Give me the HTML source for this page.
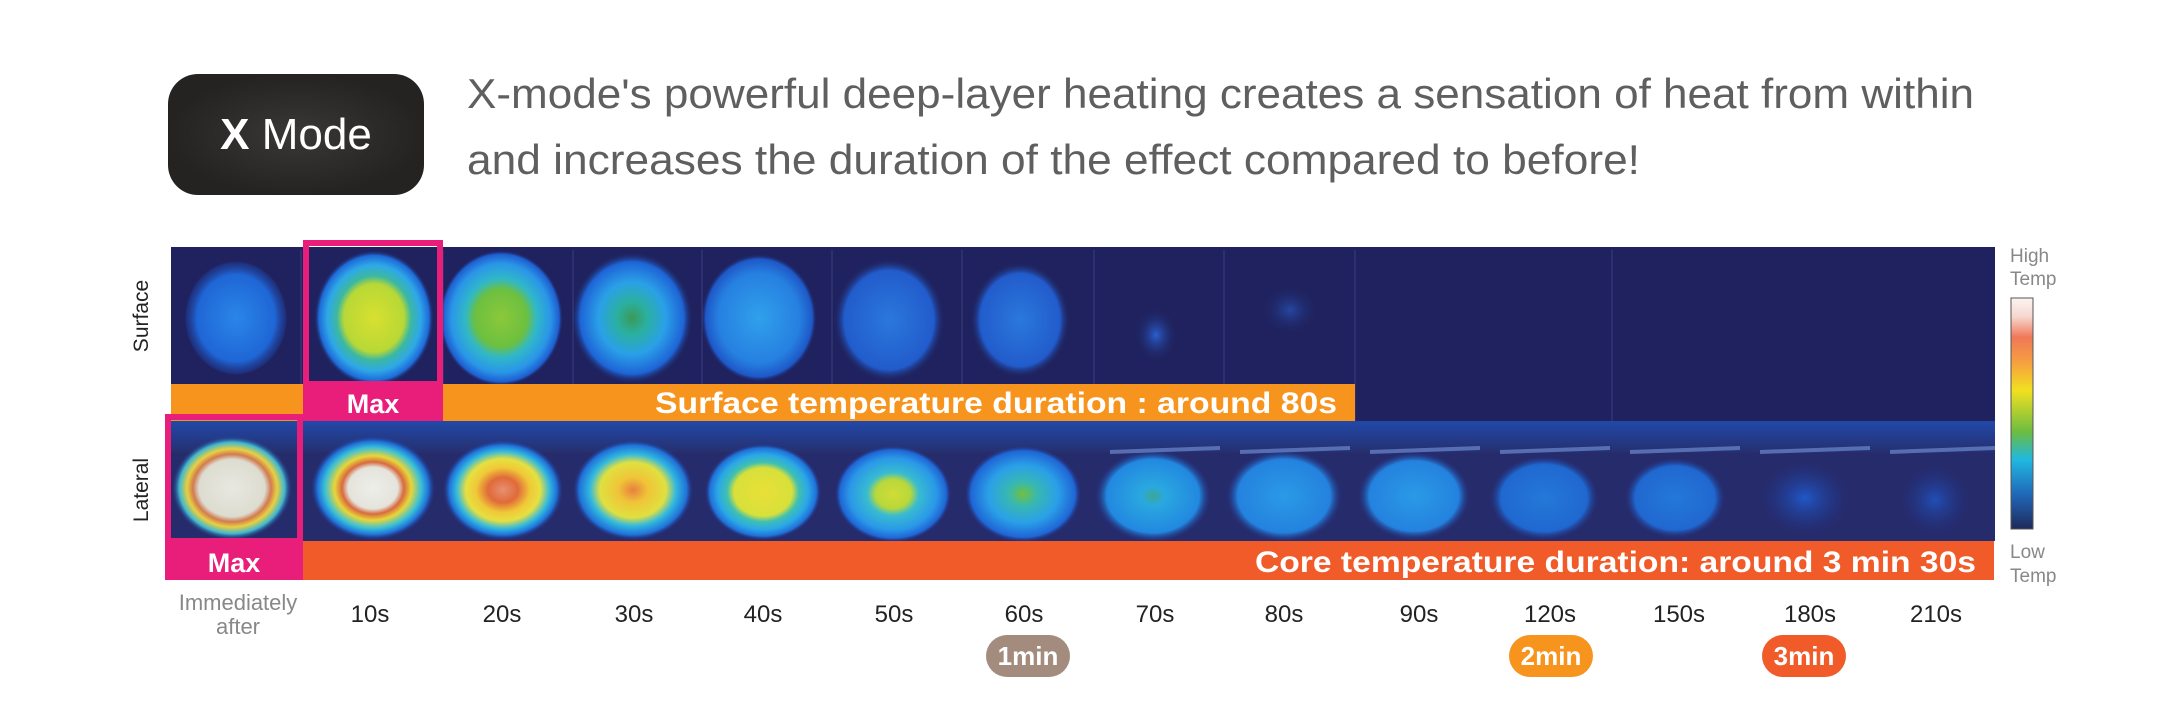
<!DOCTYPE html>
<html><head><meta charset="utf-8"><style>
html,body{margin:0;padding:0;background:#fff;}
svg{display:block;}
text{font-family:"Liberation Sans",sans-serif;}
</style></head><body>
<svg width="2179" height="727" viewBox="0 0 2179 727" xmlns="http://www.w3.org/2000/svg">
<defs>
<clipPath id="cs"><rect x="171" y="247" width="1824" height="137"/></clipPath>
<clipPath id="cl"><rect x="171" y="421" width="1824" height="120"/></clipPath>
<radialGradient id="mb" cx="50%" cy="50%" r="50%"><stop offset="0" stop-color="#3a3836"/><stop offset="1" stop-color="#252321"/></radialGradient>
<radialGradient id="s0"><stop offset="0" stop-color="#2a86e8"/><stop offset="0.75" stop-color="#1f66d6"/><stop offset="0.95" stop-color="#1f3c95" stop-opacity="0.6"/><stop offset="1" stop-color="#1f225e" stop-opacity="0"/></radialGradient>
<radialGradient id="s1"><stop offset="0" stop-color="#d8e030"/><stop offset="0.5" stop-color="#b8d836"/><stop offset="0.62" stop-color="#3cb8a0"/><stop offset="0.78" stop-color="#2ea8e8"/><stop offset="0.92" stop-color="#1e6ad8"/><stop offset="1" stop-color="#1f225e" stop-opacity="0"/></radialGradient>
<radialGradient id="s2"><stop offset="0" stop-color="#8cc83a"/><stop offset="0.42" stop-color="#6cc040"/><stop offset="0.58" stop-color="#30b8c8"/><stop offset="0.8" stop-color="#2a96e8"/><stop offset="0.94" stop-color="#1e5ed0"/><stop offset="1" stop-color="#1f225e" stop-opacity="0"/></radialGradient>
<radialGradient id="s3"><stop offset="0" stop-color="#3a9a5a"/><stop offset="0.25" stop-color="#2ab0a0"/><stop offset="0.55" stop-color="#2aa0e8"/><stop offset="0.85" stop-color="#1e64d6"/><stop offset="1" stop-color="#1f225e" stop-opacity="0"/></radialGradient>
<radialGradient id="s4"><stop offset="0" stop-color="#30a0ec"/><stop offset="0.7" stop-color="#2680e0"/><stop offset="0.92" stop-color="#1e58c8"/><stop offset="1" stop-color="#1f225e" stop-opacity="0"/></radialGradient>
<radialGradient id="s5"><stop offset="0" stop-color="#2a78dc"/><stop offset="0.8" stop-color="#225ccc"/><stop offset="1" stop-color="#1f225e" stop-opacity="0"/></radialGradient>
<radialGradient id="s7"><stop offset="0" stop-color="#2a60d0"/><stop offset="1" stop-color="#1f225e" stop-opacity="0"/></radialGradient>
<radialGradient id="l0"><stop offset="0" stop-color="#e8e8e0"/><stop offset="0.55" stop-color="#dcdcd0"/><stop offset="0.65" stop-color="#d27a50"/><stop offset="0.75" stop-color="#e8d040"/><stop offset="0.88" stop-color="#40b8d0"/><stop offset="1" stop-color="#1f3a90" stop-opacity="0"/></radialGradient>
<radialGradient id="l1"><stop offset="0" stop-color="#eeeeea"/><stop offset="0.4" stop-color="#e4e4dc"/><stop offset="0.5" stop-color="#d86a40"/><stop offset="0.62" stop-color="#e8d638"/><stop offset="0.78" stop-color="#38c0d8"/><stop offset="0.9" stop-color="#2070d8"/><stop offset="1" stop-color="#1f3a90" stop-opacity="0"/></radialGradient>
<radialGradient id="l2"><stop offset="0" stop-color="#e89070"/><stop offset="0.25" stop-color="#e06a3a"/><stop offset="0.45" stop-color="#f0c838"/><stop offset="0.62" stop-color="#e6e040"/><stop offset="0.78" stop-color="#30b8e0"/><stop offset="0.9" stop-color="#2070d8"/><stop offset="1" stop-color="#1f3a90" stop-opacity="0"/></radialGradient>
<radialGradient id="l3"><stop offset="0" stop-color="#e88040"/><stop offset="0.25" stop-color="#f0c438"/><stop offset="0.55" stop-color="#e0e040"/><stop offset="0.72" stop-color="#30b8e0"/><stop offset="0.9" stop-color="#2070d8"/><stop offset="1" stop-color="#1f3a90" stop-opacity="0"/></radialGradient>
<radialGradient id="l4"><stop offset="0" stop-color="#e8e038"/><stop offset="0.5" stop-color="#d8e03a"/><stop offset="0.62" stop-color="#40c0b0"/><stop offset="0.78" stop-color="#2aa8e8"/><stop offset="0.92" stop-color="#2070d8"/><stop offset="1" stop-color="#1f3a90" stop-opacity="0"/></radialGradient>
<radialGradient id="l5"><stop offset="0" stop-color="#d0dc38"/><stop offset="0.3" stop-color="#b8d83a"/><stop offset="0.45" stop-color="#38bcd0"/><stop offset="0.75" stop-color="#2a98e8"/><stop offset="0.92" stop-color="#1f66d6"/><stop offset="1" stop-color="#1f3a90" stop-opacity="0"/></radialGradient>
<radialGradient id="l6"><stop offset="0" stop-color="#70c040"/><stop offset="0.25" stop-color="#38b8b0"/><stop offset="0.6" stop-color="#2aa0e8"/><stop offset="0.9" stop-color="#1f66d6"/><stop offset="1" stop-color="#1f3a90" stop-opacity="0"/></radialGradient>
<radialGradient id="l7"><stop offset="0" stop-color="#3aa890"/><stop offset="0.2" stop-color="#2aa8e0"/><stop offset="0.8" stop-color="#2288e0"/><stop offset="1" stop-color="#1f3a90" stop-opacity="0"/></radialGradient>
<radialGradient id="l8"><stop offset="0" stop-color="#2a9ae6"/><stop offset="0.8" stop-color="#2482de"/><stop offset="1" stop-color="#1f3a90" stop-opacity="0"/></radialGradient>
<radialGradient id="l10"><stop offset="0" stop-color="#2478d8"/><stop offset="0.8" stop-color="#2068d0"/><stop offset="1" stop-color="#1f3a90" stop-opacity="0"/></radialGradient>
<radialGradient id="l12"><stop offset="0" stop-color="#2058c8"/><stop offset="1" stop-color="#1f3a90" stop-opacity="0"/></radialGradient>
<linearGradient id="ltop" x1="0" y1="0" x2="0" y2="1"><stop offset="0" stop-color="#2050b8"/><stop offset="1" stop-color="#26306e"/></linearGradient>
<linearGradient id="cb" x1="0" y1="0" x2="0" y2="1">
<stop offset="0" stop-color="#fbf4f2"/><stop offset="0.08" stop-color="#f6d8d0"/><stop offset="0.17" stop-color="#f07858"/><stop offset="0.28" stop-color="#f6a040"/><stop offset="0.4" stop-color="#f2e020"/><stop offset="0.58" stop-color="#6cbc40"/><stop offset="0.7" stop-color="#20b8e0"/><stop offset="0.85" stop-color="#2068b8"/><stop offset="1" stop-color="#1e2a5a"/></linearGradient>
</defs>

<rect x="168" y="74" width="256" height="121" rx="30" fill="url(#mb)"/>
<text x="296" y="149" font-size="44" fill="#fff" text-anchor="middle"><tspan font-weight="bold">X</tspan> Mode</text>

<text x="467" y="108" font-size="42" fill="#5f5f5f" textLength="1507" lengthAdjust="spacingAndGlyphs">X-mode's powerful deep-layer heating creates a sensation of heat from within</text>
<text x="467" y="174" font-size="42" fill="#5f5f5f" textLength="1173" lengthAdjust="spacingAndGlyphs">and increases the duration of the effect compared to before!</text>

<rect x="171" y="247" width="1824" height="176" fill="#1f225e"/>
<g clip-path="url(#cs)">
<ellipse cx="236" cy="318" rx="52" ry="58" fill="url(#s0)"/>
<ellipse cx="374" cy="318" rx="60" ry="68" fill="url(#s1)"/>
<ellipse cx="501" cy="318" rx="62" ry="68" fill="url(#s2)"/>
<ellipse cx="632" cy="318" rx="61" ry="66" fill="url(#s3)"/>
<ellipse cx="759" cy="318" rx="58" ry="64" fill="url(#s4)"/>
<ellipse cx="889" cy="320" rx="56" ry="62" fill="url(#s5)"/>
<ellipse cx="1020" cy="320" rx="50" ry="58" fill="url(#s5)"/>
<ellipse cx="1156" cy="335" rx="22" ry="28" fill="url(#s7)"/>
<ellipse cx="1290" cy="310" rx="30" ry="26" fill="url(#s7)" opacity="0.6"/>
</g>
<g stroke="#3a3f80" stroke-width="1">
<line x1="301" y1="250" x2="301" y2="384"/><line x1="443" y1="250" x2="443" y2="384"/><line x1="573" y1="250" x2="573" y2="384"/><line x1="702" y1="250" x2="702" y2="384"/><line x1="832" y1="250" x2="832" y2="384"/><line x1="962" y1="250" x2="962" y2="384"/><line x1="1094" y1="250" x2="1094" y2="384"/><line x1="1224" y1="250" x2="1224" y2="384"/><line x1="1355" y1="250" x2="1355" y2="421"/><line x1="1612" y1="250" x2="1612" y2="421"/>
</g>
<rect x="171" y="384" width="1184" height="37" fill="#f7941d"/>
<text x="655" y="413" font-size="30" font-weight="bold" fill="#fff" textLength="682" lengthAdjust="spacingAndGlyphs">Surface temperature duration : around 80s</text>

<rect x="171" y="421" width="1824" height="120" fill="#262b6c"/>
<rect x="171" y="421" width="1824" height="32" fill="url(#ltop)" opacity="0.8"/>
<g clip-path="url(#cl)">
<ellipse cx="232" cy="488" rx="60" ry="52" fill="url(#l0)"/>
<ellipse cx="373" cy="488" rx="62" ry="52" fill="url(#l1)"/>
<ellipse cx="503" cy="490" rx="60" ry="50" fill="url(#l2)"/>
<ellipse cx="633" cy="490" rx="60" ry="50" fill="url(#l3)"/>
<ellipse cx="763" cy="492" rx="58" ry="48" fill="url(#l4)"/>
<ellipse cx="893" cy="494" rx="58" ry="48" fill="url(#l5)"/>
<ellipse cx="1023" cy="494" rx="58" ry="48" fill="url(#l6)"/>
<ellipse cx="1153" cy="496" rx="58" ry="46" fill="url(#l7)"/>
<ellipse cx="1284" cy="496" rx="58" ry="46" fill="url(#l8)"/>
<ellipse cx="1414" cy="496" rx="56" ry="44" fill="url(#l8)"/>
<ellipse cx="1544" cy="498" rx="54" ry="42" fill="url(#l10)"/>
<ellipse cx="1675" cy="498" rx="50" ry="40" fill="url(#l10)"/>
<ellipse cx="1805" cy="498" rx="44" ry="36" fill="url(#l12)"/>
<ellipse cx="1935" cy="500" rx="34" ry="34" fill="url(#l12)" opacity="0.8"/>
</g>
<g stroke="#7fa0e8" stroke-width="4" opacity="0.55">
<line x1="1110" y1="452" x2="1220" y2="448"/><line x1="1240" y1="452" x2="1350" y2="448"/><line x1="1370" y1="452" x2="1480" y2="448"/><line x1="1500" y1="452" x2="1610" y2="448"/><line x1="1630" y1="452" x2="1740" y2="448"/><line x1="1760" y1="452" x2="1870" y2="448"/><line x1="1890" y1="452" x2="1995" y2="448"/>
</g>
<rect x="303" y="541" width="1691" height="39" fill="#f15a29"/>
<text x="1255" y="572" font-size="30" font-weight="bold" fill="#fff" textLength="721" lengthAdjust="spacingAndGlyphs">Core temperature duration: around 3 min 30s</text>

<rect x="306" y="243" width="134" height="141" fill="none" stroke="#e91e7a" stroke-width="6"/>
<rect x="303" y="384" width="140" height="37" fill="#e91e7a"/>
<text x="373" y="413" font-size="27" font-weight="bold" fill="#fff" text-anchor="middle">Max</text>
<rect x="168" y="417" width="132" height="124" fill="none" stroke="#e91e7a" stroke-width="6"/>
<rect x="165" y="541" width="138" height="39" fill="#e91e7a"/>
<text x="234" y="572" font-size="27" font-weight="bold" fill="#fff" text-anchor="middle">Max</text>

<text transform="translate(148,316) rotate(-90)" font-size="21" fill="#222" text-anchor="middle">Surface</text>
<text transform="translate(148,490) rotate(-90)" font-size="21" fill="#222" text-anchor="middle">Lateral</text>

<rect x="2011" y="298" width="22" height="231" fill="url(#cb)" stroke="#555" stroke-width="1"/>
<g font-size="19" fill="#888">
<text x="2010" y="262">High</text><text x="2010" y="285">Temp</text>
<text x="2010" y="558">Low</text><text x="2010" y="582">Temp</text>
</g>

<g font-size="22" fill="#888" text-anchor="middle">
<text x="238" y="610">Immediately</text><text x="238" y="634">after</text>
</g>
<g font-size="24" fill="#222" text-anchor="middle">
<text x="370" y="622">10s</text><text x="502" y="622">20s</text><text x="634" y="622">30s</text><text x="763" y="622">40s</text><text x="894" y="622">50s</text><text x="1024" y="622">60s</text><text x="1155" y="622">70s</text><text x="1284" y="622">80s</text><text x="1419" y="622">90s</text><text x="1550" y="622">120s</text><text x="1679" y="622">150s</text><text x="1810" y="622">180s</text><text x="1936" y="622">210s</text>
</g>
<rect x="986" y="635" width="84" height="42" rx="21" fill="#a38c7e"/>
<text x="1028" y="665" font-size="26" font-weight="bold" fill="#fff" text-anchor="middle">1min</text>
<rect x="1509" y="635" width="84" height="42" rx="21" fill="#f7941d"/>
<text x="1551" y="665" font-size="26" font-weight="bold" fill="#fff" text-anchor="middle">2min</text>
<rect x="1762" y="635" width="84" height="42" rx="21" fill="#f15a29"/>
<text x="1804" y="665" font-size="26" font-weight="bold" fill="#fff" text-anchor="middle">3min</text>
</svg>
</body></html>
